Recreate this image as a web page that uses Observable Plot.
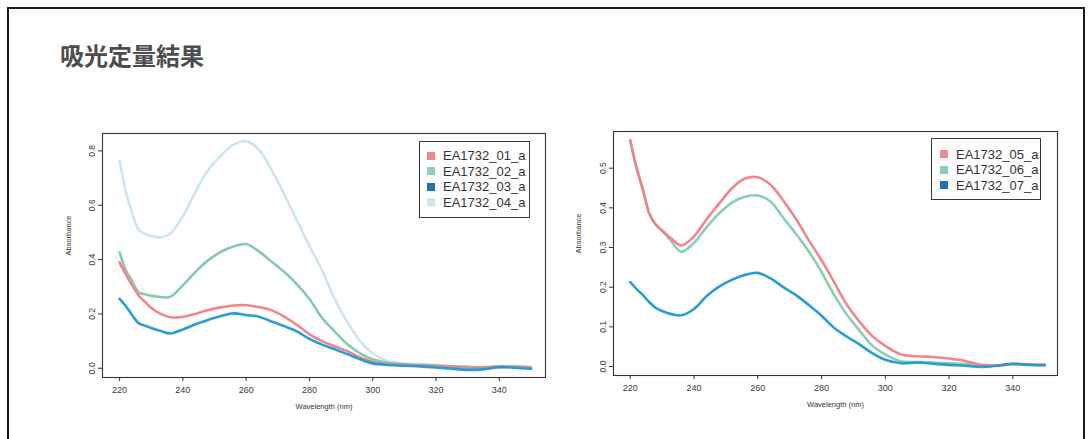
<!DOCTYPE html>
<html>
<head>
<meta charset="utf-8">
<script src="https://cdn.jsdelivr.net/npm/d3@7"></script>
<script src="https://cdn.jsdelivr.net/npm/@observablehq/plot@0.6"></script>
<style>
  html, body { margin: 0; padding: 0; background: #fff; }
  #page { position: relative; width: 1092px; height: 439px; overflow: hidden; background: #fff; font-family: "Liberation Sans", Arial, sans-serif; }
  #border { position: absolute; left: 7px; top: 7px; width: 1074px; height: 470px; border: 2px solid #1a1a1a; }
  #title { position: absolute; left: 60px; top: 42px; font-family: "Noto Sans CJK JP", sans-serif; font-weight: 700; font-size: 24px; line-height: 26px; color: #4d4d4d; }
  .chart { position: absolute; top: 120px; }
  .legend { position: absolute; border: 1px solid #3a3a3a; background: #fff; box-sizing: border-box; }
  .legend .row { position: absolute; height: 15px; line-height: 15px; font-size: 13px; color: #333; white-space: nowrap; }
  .legend .sw { display: inline-block; width: 8px; height: 8px; vertical-align: middle; margin-right: 8px; position: relative; top: -1px; }
</style>
</head>
<body>
<div id="page">
  <div id="border"></div>
  <div id="title">吸光定量結果</div>
  <div id="chartL" class="chart" style="left:40px"></div>
  <div id="chartR" class="chart" style="left:553px"></div>
  <div id="legL" class="legend" style="left:419px; top:141px; width:111px; height:77px"></div>
  <div id="legR" class="legend" style="left:931px; top:138px; width:110px; height:62px"></div>
</div>
<script>
// ---- data ----
const wavelengths = [220, 222, 224, 226, 228, 230, 233, 236, 240, 244, 248, 252, 256, 260, 264, 268, 272, 276, 280, 284, 288, 292, 296, 300, 305, 310, 315, 320, 325, 330, 335, 340, 345, 350];

const leftNames = ["EA1732_01_a", "EA1732_02_a", "EA1732_03_a", "EA1732_04_a"];
const ea01 = [0.390, 0.345, 0.305, 0.268, 0.245, 0.222, 0.200, 0.188, 0.189, 0.200, 0.214, 0.224, 0.231, 0.232, 0.225, 0.214, 0.190, 0.160, 0.125, 0.100, 0.081, 0.063, 0.040, 0.024, 0.015, 0.012, 0.010, 0.008, 0.005, 0.002, 0.002, 0.005, 0.005, 0.003];
const ea02 = [0.427, 0.360, 0.320, 0.280, 0.272, 0.267, 0.262, 0.263, 0.305, 0.355, 0.398, 0.428, 0.448, 0.457, 0.430, 0.393, 0.355, 0.310, 0.255, 0.185, 0.135, 0.088, 0.055, 0.033, 0.020, 0.015, 0.012, 0.010, 0.007, 0.005, 0.004, 0.006, 0.006, 0.004];
const ea03 = [0.255, 0.228, 0.195, 0.166, 0.157, 0.148, 0.137, 0.128, 0.143, 0.162, 0.178, 0.192, 0.202, 0.196, 0.190, 0.172, 0.155, 0.136, 0.108, 0.087, 0.070, 0.052, 0.033, 0.018, 0.012, 0.009, 0.007, 0.003, -0.002, -0.006, -0.004, 0.004, 0.002, -0.002];
const ea04 = [0.764, 0.650, 0.570, 0.510, 0.495, 0.487, 0.482, 0.495, 0.560, 0.650, 0.730, 0.782, 0.823, 0.835, 0.805, 0.730, 0.640, 0.545, 0.450, 0.360, 0.255, 0.170, 0.100, 0.055, 0.025, 0.018, 0.015, 0.013, 0.008, 0.005, 0.005, 0.008, 0.007, 0.005];

const rightNames = ["EA1732_05_a", "EA1732_06_a", "EA1732_07_a"];
const ea05 = [0.570, 0.500, 0.445, 0.385, 0.358, 0.343, 0.322, 0.305, 0.328, 0.372, 0.412, 0.450, 0.474, 0.477, 0.458, 0.418, 0.372, 0.318, 0.268, 0.212, 0.155, 0.112, 0.076, 0.052, 0.030, 0.026, 0.024, 0.020, 0.014, 0.004, 0.002, 0.006, 0.005, 0.004];
const ea06 = [0.570, 0.500, 0.445, 0.385, 0.358, 0.342, 0.315, 0.289, 0.312, 0.352, 0.387, 0.414, 0.428, 0.431, 0.416, 0.375, 0.334, 0.290, 0.238, 0.180, 0.130, 0.090, 0.052, 0.030, 0.013, 0.011, 0.010, 0.008, 0.006, 0.003, 0.002, 0.006, 0.005, 0.004];
const ea07 = [0.213, 0.195, 0.180, 0.162, 0.148, 0.140, 0.132, 0.129, 0.145, 0.178, 0.202, 0.219, 0.231, 0.236, 0.222, 0.200, 0.180, 0.155, 0.128, 0.097, 0.075, 0.055, 0.033, 0.017, 0.008, 0.010, 0.007, 0.004, 0.002, -0.001, 0.002, 0.007, 0.004, 0.003];

const xTicks = [220, 240, 260, 280, 300, 320, 340];
const yTicksL = [0.0, 0.2, 0.4, 0.6, 0.8];
const yTicksR = [0.0, 0.1, 0.2, 0.3, 0.4, 0.5];

// styles (kept separate from data)
const leftColors = ["#f27f86", "#80c8a6", "#1f98d6", "#c8e5ef"];
const rightColors = ["#f27f86", "#86cbb0", "#1f98d6"];

function rows(names, seriesList, order) {
  const out = [];
  for (const k of order) {
    seriesList[k].forEach((v, i) => out.push({nm: wavelengths[i], abs: v, sample: names[k]}));
  }
  return out;
}

const FONT = "Liberation Sans, Arial, sans-serif";

function chart({names, series, colors, order, xDomain, yDomain, yTicks, ml, mr, mt, mb, yLabelDx}) {
  const data = rows(names, series, order);
  return Plot.plot({
    width: 520,
    height: 310,
    marginLeft: ml, marginRight: mr, marginTop: mt, marginBottom: mb,
    style: {fontFamily: FONT, background: "transparent", overflow: "visible"},
    x: {domain: xDomain},
    y: {domain: yDomain},
    color: {domain: names, range: colors},
    marks: [
      Plot.line(data, {x: "nm", y: "abs", z: "sample", stroke: "sample", strokeWidth: 2.6, curve: "catmull-rom", strokeOpacity: 0.95}),
      Plot.frame({stroke: "#333", strokeWidth: 1.1}),
      Plot.axisX(xTicks, {tickSize: 4, tickPadding: 5, fontSize: 9, fill: "#3a3a3a", stroke: "#333", tickFormat: d => String(d), label: null}),
      Plot.axisY(yTicks, {tickSize: 4, tickPadding: 4, fontSize: 8.5, fill: "#3a3a3a", stroke: "#333", tickRotate: -90, tickFormat: d => d.toFixed(1), label: null}),
      Plot.text(["Wavelength (nm)"], {frameAnchor: "bottom", dy: 31, fontSize: 7.5, fill: "#333", text: d => d}),
      Plot.text(["Absorbance"], {frameAnchor: "left", dx: yLabelDx, rotate: -90, fontSize: 7.5, fill: "#333", text: d => d})
    ]
  });
}

document.getElementById("chartL").appendChild(chart({
  names: leftNames, series: [ea01, ea02, ea03, ea04], colors: leftColors, order: [3, 1, 0, 2],
  xDomain: [214.6, 354.6], yDomain: [-0.034, 0.864], yTicks: yTicksL,
  ml: 62, mr: 15, mt: 13, mb: 53, yLabelDx: -34
}));

document.getElementById("chartR").appendChild(chart({
  names: rightNames, series: [ea05, ea06, ea07], colors: rightColors, order: [1, 0, 2],
  xDomain: [214.75, 354.0], yDomain: [-0.0227, 0.5925], yTicks: yTicksR,
  ml: 60, mr: 16, mt: 11, mb: 55, yLabelDx: -35
}));

function legend(id, names, colors, rowTops, swLeft) {
  const el = document.getElementById(id);
  names.forEach((n, i) => {
    const r = document.createElement("div");
    r.className = "row";
    r.style.top = rowTops[i] + "px";
    r.style.left = swLeft + "px";
    const sw = document.createElement("span");
    sw.className = "sw";
    sw.style.background = colors[i];
    r.appendChild(sw);
    r.appendChild(document.createTextNode(n));
    el.appendChild(r);
  });
}
legend("legL", leftNames, ["#f28a8a", "#8fcfb8", "#1f74b8", "#cfe6ee"], [6, 21.6, 37.2, 52.8], 7);
legend("legR", rightNames, ["#f28a8a", "#8fcfb8", "#1f74b8"], [7.5, 23, 38.5], 8);
</script>
</body>
</html>
